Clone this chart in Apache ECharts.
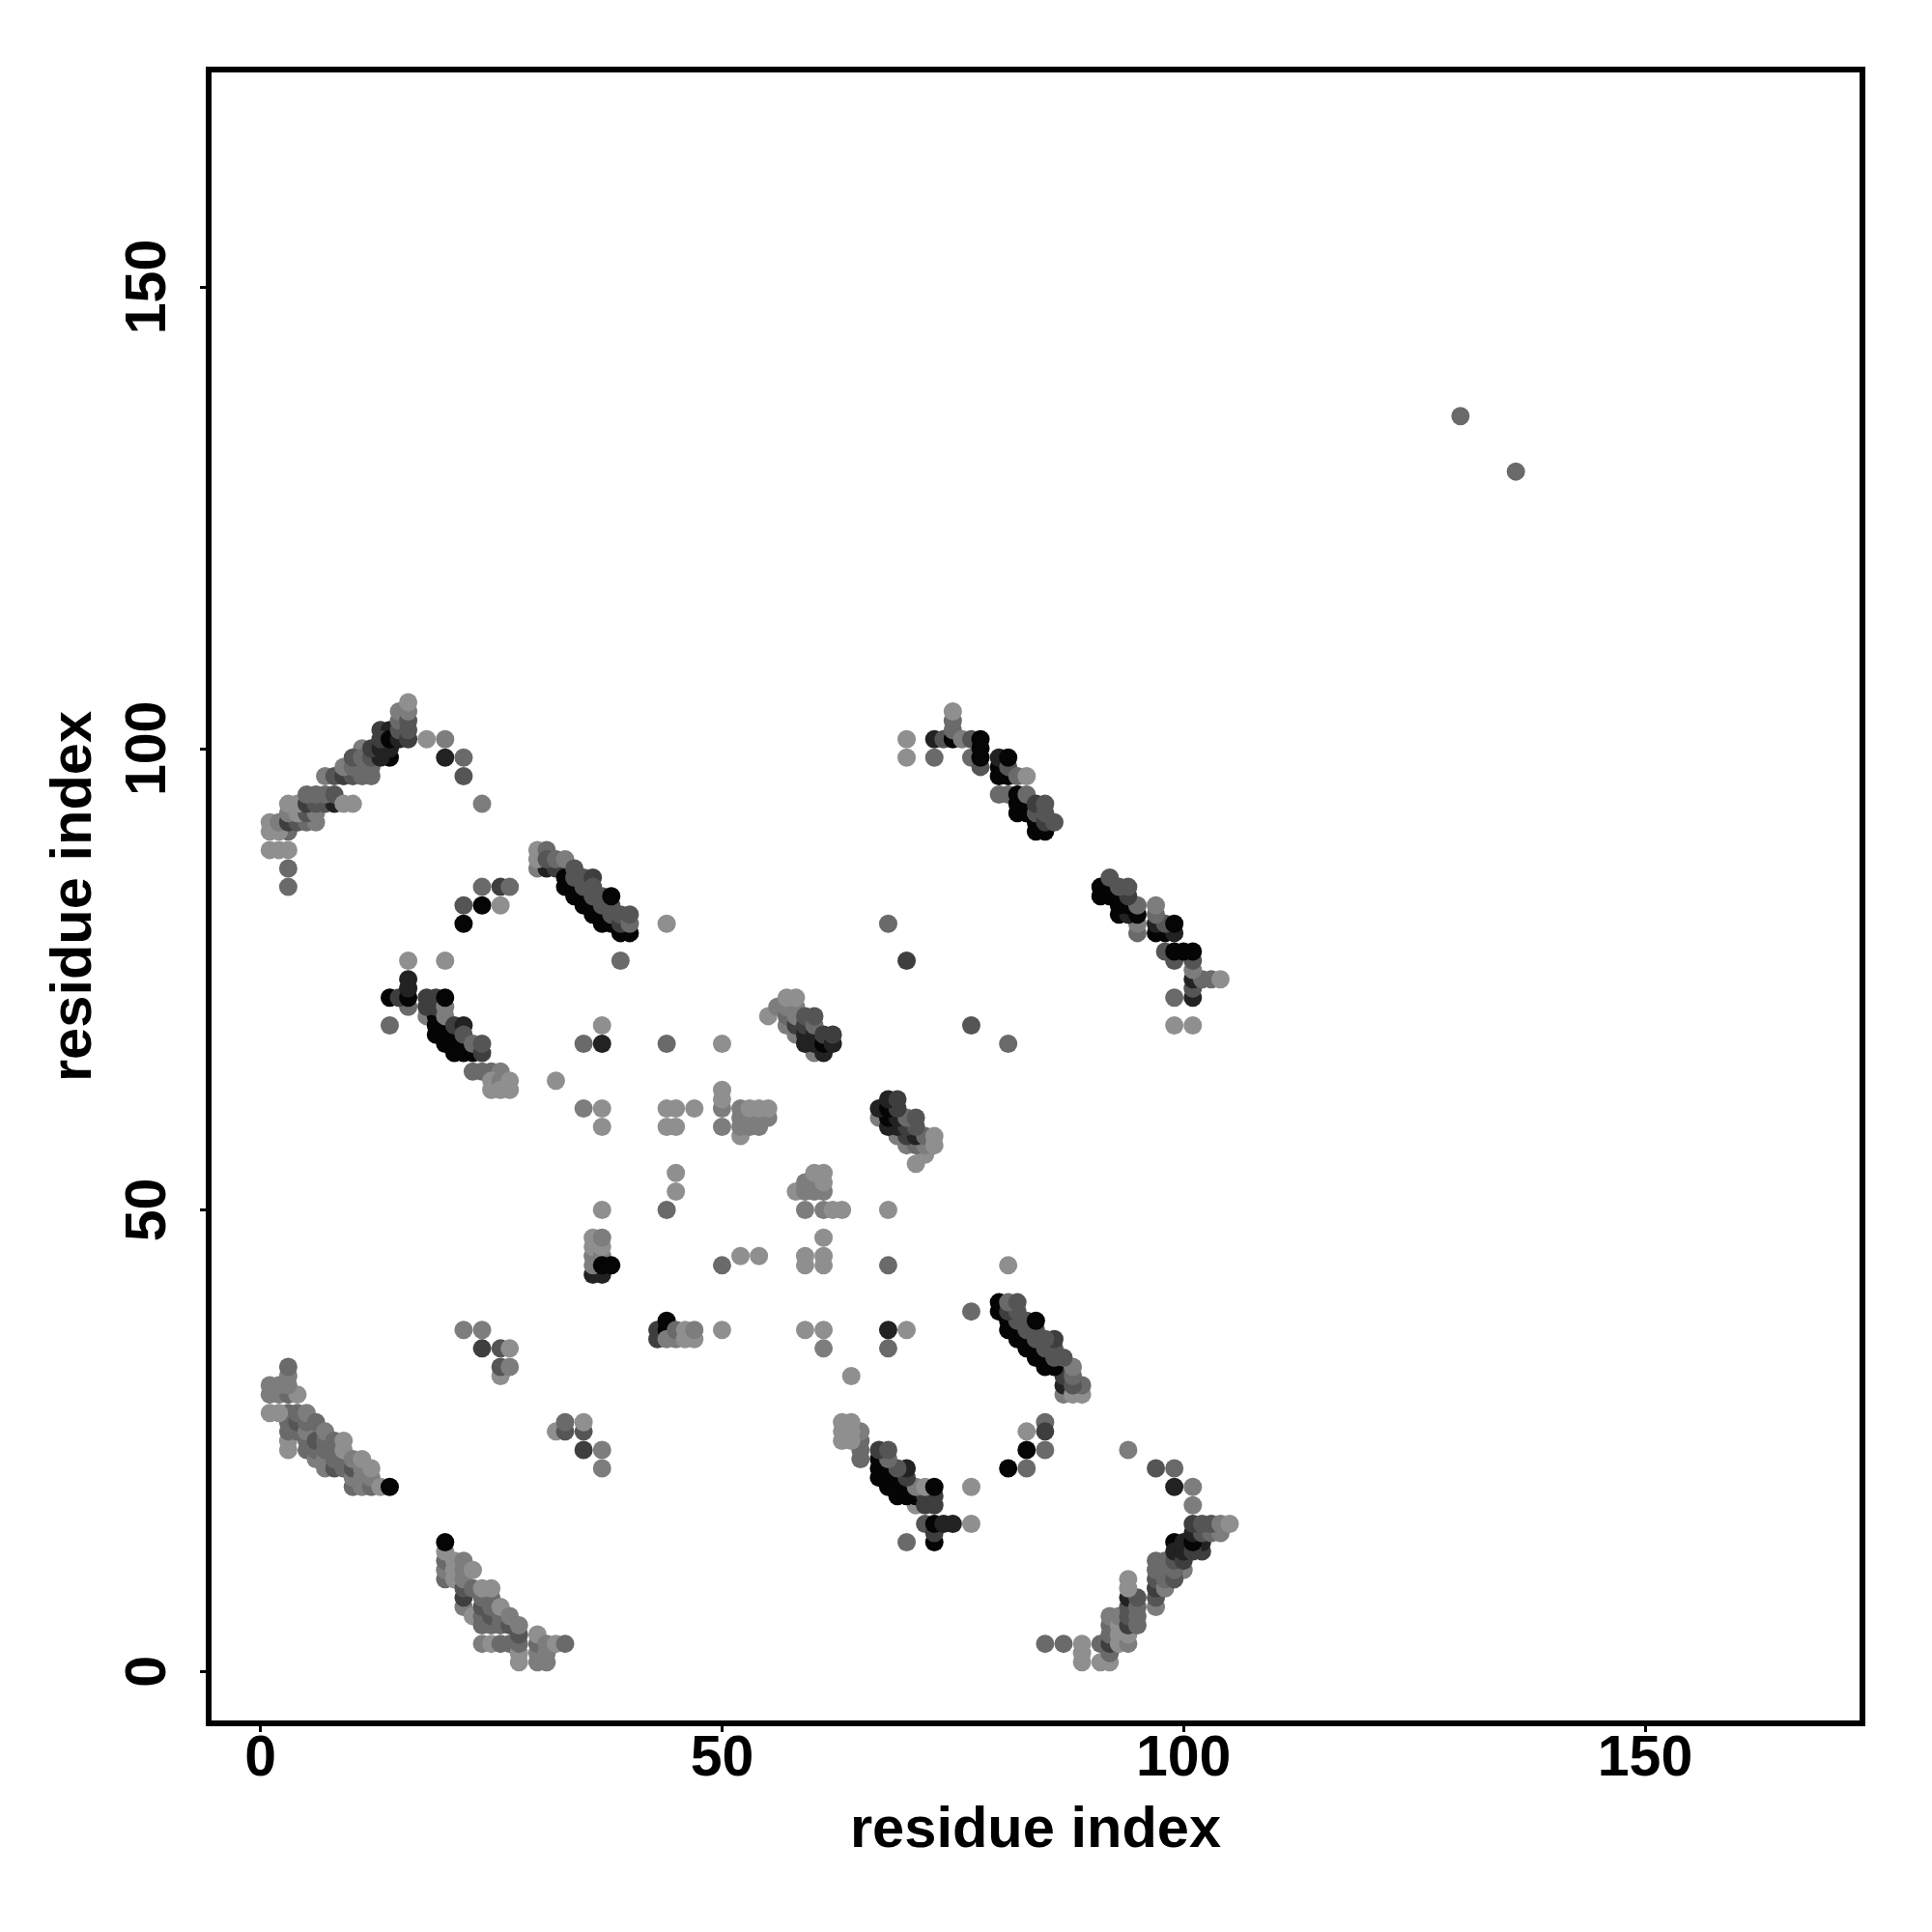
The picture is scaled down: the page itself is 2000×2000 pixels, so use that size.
<!DOCTYPE html>
<html><head><meta charset="utf-8">
<style>html,body{margin:0;padding:0;background:#fff}#c{width:2000px;height:2000px}</style>
<script src="https://cdn.jsdelivr.net/npm/echarts@6/dist/echarts.min.js"></script>
</head><body><div id="c"></div>
<script>
// grey levels of the contact points
const K=5,D=34,E=62,M=85,N=106,G=125,L=143;
const tickValues=[0,50,100,150];
const axisTitle='residue index';

const contactsA=[[3,85,N],[3,87,N],[1,89,L],[2,89,L],[3,89,L],[3,91,N],[1,91,L],[2,91,L],[1,92,L],[2,92,G],[3,92,E],[4,92,M],[5,92,N],[6,92,G],[3,93,G],[4,93,L],[5,93,M],[6,93,G],[3,94,L],[4,94,L],[5,94,E],[6,94,M],[7,94,M],[8,94,D],[5,95,N],[6,95,N],[7,95,N],[8,95,M],[9,94,L],[10,94,L],[7,97,G],[8,97,M],[9,97,E],[10,97,M],[11,97,N],[12,97,N],[9,98,G],[11,100,G],[10,98,N],[11,98,N],[12,98,N],[10,99,M],[11,99,N],[12,99,M],[14,99,K],[13,99,D],[12,100,E],[13,100,D],[14,100,D],[13,102,E],[14,102,D],[13,101,E],[14,101,K],[15,101,D],[15,102,M],[15,103,N],[15,104,G],[16,101,E],[16,102,M],[16,103,M],[16,104,G],[16,105,L]];
const contactsAm=[[85,3,N],[87,3,N],[89,1,L],[89,2,L],[89,3,L],[91,3,N],[91,1,L],[92,1,L],[92,2,N],[92,3,E],[92,4,N],[92,5,N],[92,6,G],[93,3,L],[93,4,L],[93,5,L],[93,6,G],[94,3,G],[94,4,L],[94,5,E],[94,6,M],[94,7,M],[94,8,D],[95,5,N],[95,6,N],[95,7,N],[95,8,M],[94,9,L],[94,10,L],[97,7,G],[97,8,M],[97,9,E],[97,10,M],[97,11,N],[97,12,N],[98,9,G],[100,11,G],[98,10,N],[98,11,N],[98,12,N],[99,10,M],[99,11,N],[99,12,M],[99,14,K],[99,13,D],[100,12,E],[100,13,D],[100,14,D],[102,13,E],[102,14,D],[101,13,E],[101,14,K],[101,15,D],[102,15,M],[103,15,N],[104,15,G],[101,16,E],[102,16,M],[103,16,M],[104,16,G],[105,16,L]];
const contactsB=[[30,87,G],[31,87,D],[32,87,E],[33,86,K],[33,85,K],[34,85,K],[34,84,K],[35,84,K],[35,83,K],[36,83,K],[36,82,K],[37,82,K],[37,81,K],[38,81,K],[39,80,K],[40,80,K],[30,89,L],[30,88,L],[31,89,N],[31,88,M],[32,88,N],[33,88,G],[34,87,M],[34,86,M],[35,86,M],[35,85,M],[36,86,E],[36,85,M],[36,84,M],[37,84,M],[37,83,M],[38,83,M],[38,82,M],[38,84,K],[39,81,E],[39,82,M],[40,81,N],[40,82,M]];
const contactsBm=[[87,30,G],[87,31,D],[87,32,E],[86,33,K],[85,33,K],[85,34,K],[84,34,K],[84,35,K],[83,35,K],[83,36,K],[82,36,K],[82,37,K],[81,37,K],[81,38,K],[80,39,K],[80,40,K],[89,30,L],[88,30,L],[89,31,N],[88,31,M],[88,32,N],[88,33,G],[87,34,M],[86,34,M],[86,35,M],[85,35,M],[86,36,E],[85,36,M],[84,36,M],[84,37,M],[83,37,M],[83,38,M],[82,38,M],[84,38,K],[81,39,E],[82,39,M],[81,40,N],[82,40,M]];
const contactsC=[[14,70,N],[16,72,N],[14,73,K],[15,73,E],[16,73,K],[16,74,D],[16,75,D],[18,71,G],[19,69,K],[19,70,K],[19,71,K],[20,70,K],[20,69,K],[20,68,K],[21,69,K],[21,68,K],[21,67,K],[22,68,K],[22,67,K],[23,67,K],[18,72,E],[18,73,E],[19,72,E],[19,73,E],[20,71,G],[20,72,G],[20,73,K],[21,70,E],[22,70,D],[22,69,M],[23,68,N],[24,67,E],[24,68,M],[23,65,N],[24,65,N],[25,65,N],[26,65,G],[25,64,L],[25,63,L],[26,64,G],[26,63,L],[27,64,L],[27,63,L]];
const contactsCm=[[70,14,N],[72,16,M],[73,14,K],[73,15,E],[73,16,K],[74,16,D],[75,16,D],[71,18,L],[69,19,K],[70,19,K],[71,19,K],[70,20,K],[69,20,K],[68,20,K],[69,21,K],[68,21,K],[67,21,K],[68,22,K],[67,22,K],[67,23,K],[72,18,E],[73,18,E],[72,19,E],[73,19,E],[71,20,G],[72,20,L],[73,20,K],[70,21,E],[70,22,D],[69,22,M],[68,23,N],[67,24,E],[68,24,M],[65,23,N],[65,24,N],[65,25,N],[65,26,G],[63,25,L],[64,25,L],[63,26,L],[64,26,L],[63,27,L],[64,27,L]];
const contactsD=[[70,99,L],[70,101,L],[73,99,N],[73,101,D],[74,101,M],[75,101,K],[75,102,N],[75,103,N],[75,104,L],[76,101,G],[77,99,N],[77,101,M],[78,98,M],[78,99,K],[78,100,K],[78,101,K],[80,95,N],[81,95,N],[80,97,K],[80,98,K],[81,97,K],[80,99,D],[81,98,M],[81,99,K],[82,97,N],[83,97,L],[82,93,K],[82,94,K],[82,95,K],[83,93,K],[83,94,K],[83,95,N],[84,91,K],[85,91,K],[84,92,K],[84,93,M],[84,94,E],[85,92,E],[85,93,M],[85,94,M],[86,92,M]];
const contactsDm=[[99,70,L],[101,70,L],[99,73,N],[101,73,D],[101,74,M],[101,75,D],[102,75,N],[103,75,N],[104,75,L],[101,76,G],[99,77,M],[101,77,M],[98,78,M],[99,78,K],[100,78,K],[101,78,K],[95,80,N],[95,81,G],[97,80,K],[98,80,K],[97,81,D],[99,80,D],[98,81,M],[99,81,K],[97,82,N],[97,83,G],[93,82,K],[94,82,D],[95,82,K],[93,83,K],[94,83,K],[95,83,N],[91,84,K],[91,85,K],[92,84,K],[93,84,K],[92,85,K],[94,84,E],[93,85,M],[94,85,M],[92,86,M]];
const contactsE=[[20,10,N],[20,11,G],[20,12,N],[20,13,L],[20,14,K],[21,10,L],[21,11,L],[21,12,L],[22,7,G],[22,8,E],[22,9,M],[22,10,G],[22,11,G],[22,12,G],[23,6,L],[24,5,N],[24,6,N],[24,7,M],[24,8,N],[23,9,N],[23,11,L],[25,5,N],[25,6,M],[25,7,N],[25,8,N],[24,9,L],[25,9,L],[26,5,N],[26,6,N],[26,7,L],[27,5,M],[27,6,G],[24,3,G],[25,3,L],[26,3,N],[27,3,N],[28,1,L],[28,2,L],[28,3,N],[28,4,M],[28,5,G],[30,1,G],[30,2,G],[30,3,N],[30,4,L],[31,1,G],[31,2,G],[31,3,G],[32,3,L],[33,3,N]];
const contactsEm=[[3,24,L],[3,25,L],[3,26,N],[3,27,N],[3,28,N],[4,26,N],[4,27,M],[4,28,N],[5,24,N],[5,25,N],[5,26,G],[5,27,N],[5,28,G],[6,23,G],[6,24,N],[6,25,M],[6,27,N],[7,22,G],[7,23,G],[7,24,N],[7,25,N],[7,26,G],[8,22,M],[8,23,N],[8,24,N],[8,25,N],[9,22,N],[9,24,L],[9,25,L],[10,20,N],[10,21,G],[10,22,M],[10,23,G],[11,20,G],[11,21,G],[11,22,G],[11,23,L],[12,20,N],[12,21,G],[12,22,L],[13,20,L],[14,20,K],[1,28,L],[2,28,L],[1,30,G],[2,30,G],[3,30,N],[4,30,L],[1,31,G],[2,31,G],[3,31,G],[3,32,G],[3,33,N]];
const contactsF=[[55,71,L],[56,72,G],[57,70,G],[57,71,N],[57,72,G],[58,69,G],[58,70,E],[58,71,G],[58,72,G],[57,73,L],[58,73,L],[60,67,G],[59,68,D],[59,69,D],[59,70,E],[59,71,M],[60,68,D],[60,69,D],[60,70,N],[60,71,M],[61,67,D],[61,68,K],[61,69,E],[62,68,D],[62,69,E]];
const contactsFm=[[71,55,L],[72,56,L],[70,57,G],[71,57,N],[72,57,G],[69,58,G],[70,58,E],[71,58,D],[72,58,N],[73,57,L],[73,58,L],[67,60,G],[68,59,D],[69,59,D],[70,59,E],[71,59,M],[68,60,K],[69,60,D],[70,60,N],[71,60,M],[67,61,D],[68,61,K],[69,61,E],[68,62,D],[69,62,E]];
const contactsG=[[36,43,D],[37,43,D],[36,44,G],[36,45,G],[36,46,L],[36,47,L],[37,45,G],[37,46,L],[37,47,G],[37,44,K],[38,44,K],[43,36,E],[43,37,E],[44,37,K],[44,38,K],[44,36,G],[45,36,G],[45,37,N],[46,36,L],[46,37,L],[47,36,L],[47,37,G],[52,58,L],[52,59,G],[53,59,G],[54,59,G],[52,60,G],[53,60,G],[54,60,G],[55,60,G],[52,61,G],[53,61,L],[54,61,L],[55,61,L],[58,52,L],[59,52,G],[59,53,G],[60,52,G],[60,53,G],[61,52,G],[61,53,L],[60,54,L],[61,54,L]];
const contactsH=[[130,136,N],[136,130,N],[18,101,L],[20,101,G],[20,99,D],[22,99,N],[22,97,M],[24,94,G],[94,24,G],[97,22,M],[99,22,N],[99,20,D],[101,20,G],[101,18,G],[22,83,M],[22,81,K],[24,85,N],[24,83,K],[26,85,E],[27,85,N],[26,83,L],[85,27,N],[85,26,E],[83,26,L],[83,24,K],[85,24,N],[81,22,K],[83,22,N],[16,77,L],[20,77,L],[77,16,L],[77,20,L],[39,77,N],[44,81,L],[68,81,N],[70,77,E],[77,70,M],[81,68,N],[77,39,N],[81,44,L],[35,68,N],[37,68,D],[37,70,L],[44,68,N],[50,68,L],[68,44,N],[68,50,L],[32,64,L],[64,32,L],[35,61,G],[37,61,L],[37,59,L],[44,61,L],[45,61,L],[47,61,L],[44,59,L],[45,59,L],[50,59,G],[50,61,G],[50,62,L],[50,63,L],[45,54,L],[45,52,L],[44,50,N],[37,50,L],[59,50,G],[61,50,G],[62,50,L],[63,50,L],[61,47,L],[59,44,L],[59,45,L],[61,44,L],[61,45,L],[50,44,N],[52,45,L],[54,45,L],[50,37,L],[59,37,L],[61,37,L],[61,35,G],[68,35,N],[68,37,D],[70,37,L],[22,37,G],[24,37,G],[24,35,E],[26,35,M],[27,35,L],[26,32,L],[26,33,M],[27,33,G],[32,26,L],[33,26,M],[33,27,N],[35,26,M],[35,27,L],[35,24,E],[37,24,G],[37,22,G]];

const contacts=[...contactsA,...contactsAm,...contactsB,...contactsBm,...contactsC,...contactsCm,...contactsD,...contactsDm,...contactsE,...contactsEm,...contactsF,...contactsFm,...contactsG,...contactsH];

const labelFont={fontFamily:'"Liberation Sans"',fontWeight:'bold',fontSize:59,color:'#000'};
const titleFont={fontFamily:'"Liberation Sans"',fontWeight:'bold',fontSize:59.6,color:'#000'};
function axis(extra){
  return Object.assign({
    type:'value',min:-5.62,max:173.55,
    name:axisTitle,nameLocation:'middle',nameTextStyle:titleFont,
    axisLine:{show:false,onZero:false},splitLine:{show:false},
    axisTick:{show:true,length:9,inside:false,lineStyle:{color:'#000',width:3},customValues:tickValues},
  },extra);
}
const chart=echarts.init(document.getElementById('c'),null,{renderer:'canvas'});
chart.setOption({
  animation:false,backgroundColor:'#fff',
  grid:{left:216,right:72,top:72,bottom:216,show:true,borderColor:'#000',borderWidth:6,backgroundColor:'transparent'},
  xAxis:axis({nameGap:82,axisLabel:Object.assign({},labelFont,{margin:8,customValues:tickValues,hideOverlap:false})}),
  yAxis:axis({nameGap:108,nameRotate:90,axisLabel:Object.assign({},labelFont,{margin:32,rotate:90,customValues:tickValues,hideOverlap:false})}),
  series:[{type:'scatter',silent:true,symbol:'circle',symbolSize:19,progressive:0,large:false,
    data:contacts.map(p=>({value:[p[0],p[1]],itemStyle:{color:`rgb(${p[2]},${p[2]},${p[2]})`,opacity:1}}))}]
});
</script></body></html>
